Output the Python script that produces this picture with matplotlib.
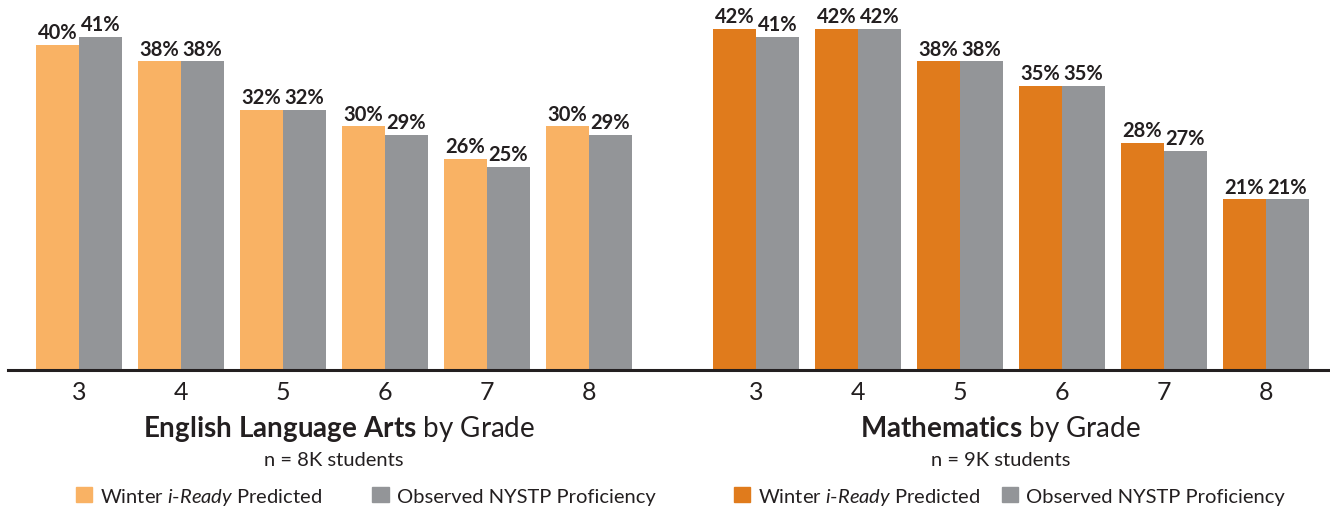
import numpy as np
import matplotlib.pyplot as plt
import matplotlib.transforms as mtransforms
from matplotlib.patches import Patch

# データ
grades = ["3", "4", "5", "6", "7", "8"]
ela_predicted = [40, 38, 32, 30, 26, 30]
ela_observed = [41, 38, 32, 29, 25, 29]
math_predicted = [42, 42, 38, 35, 28, 21]
math_observed = [41, 42, 38, 35, 27, 21]
ela_n = "n = 8K students"
math_n = "n = 9K students"

# 色
ela_orange = "#F9B264"
math_orange = "#E07B1C"
gray = "#939598"
text_color = "#231F20"

plt.rcParams['font.family'] = ['Lato', 'DejaVu Sans']
plt.rcParams['mathtext.fontset'] = 'custom'
plt.rcParams['mathtext.rm'] = 'Lato'
plt.rcParams['mathtext.it'] = 'Lato:italic'
plt.rcParams['mathtext.bf'] = 'Lato:bold'

fig = plt.figure(figsize=(13.3, 5.1), dpi=100)
ax = fig.add_axes([0.006, 0.2725, 0.994, 0.7175])

width = 0.42
gap = 1.637
ela_x = np.arange(len(grades))
math_x = ela_x + len(grades) - 1 + gap

def draw_group(xs, pred, obs, color):
    b1 = ax.bar(xs - width / 2, pred, width, color=color, linewidth=0)
    b2 = ax.bar(xs + width / 2, obs, width, color=gray, linewidth=0)
    for bars, vals in ((b1, pred), (b2, obs)):
        for b, v in zip(bars, vals):
            ax.text(b.get_x() + b.get_width() / 2, v + 0.35, f"{v}%",
                    ha='center', va='bottom', fontsize=14.5, fontweight='bold',
                    color=text_color)
    return b1, b2

ela_bars = draw_group(ela_x, ela_predicted, ela_observed, ela_orange)
math_bars = draw_group(math_x, math_predicted, math_observed, math_orange)

ax.set_xlim(-0.696, 12.265)
ax.set_ylim(0, 365.9 / 8.12)
ax.set_xticks(np.concatenate([ela_x, math_x]))
ax.set_xticklabels(grades + grades, fontsize=18, color=text_color)
ax.tick_params(axis='x', length=0, pad=7)
ax.set_yticks([])
for s in ('top', 'right', 'left'):
    ax.spines[s].set_visible(False)
ax.spines['bottom'].set_linewidth(2.2)
ax.spines['bottom'].set_color(text_color)

# タイトル
trans = mtransforms.blended_transform_factory(ax.transData, fig.transFigure)
ax.text(ela_x.mean() + 0.05, 0.158, r"$\mathbf{English\ Language\ Arts}$ by Grade",
        transform=trans, ha='center', va='center', fontsize=20, color=text_color)
ax.text(math_x.mean() - 0.1, 0.158, r"$\mathbf{Mathematics}$ by Grade",
        transform=trans, ha='center', va='center', fontsize=20, color=text_color)
ax.text(ela_x.mean(), 0.097, ela_n, transform=trans, ha='center', va='center',
        fontsize=14.5, color=text_color)
ax.text(math_x.mean() - 0.1, 0.097, math_n, transform=trans, ha='center', va='center',
        fontsize=14.5, color=text_color)

# 凡例
pred_label = r"Winter $\mathit{i}$-$\mathit{Ready}$ Predicted"
obs_label = "Observed NYSTP Proficiency"
leg_kw = dict(ncol=2, frameon=False, loc='center', fontsize=14.5,
              handlelength=0.8, handleheight=0.8, handletextpad=0.4,
              bbox_transform=fig.transFigure, labelcolor=text_color)
leg1 = ax.legend([Patch(color=ela_orange), Patch(color=gray)],
                 [pred_label, obs_label], bbox_to_anchor=(0.275, 0.025),
                 columnspacing=2.5, **leg_kw)
ax.add_artist(leg1)
ax.legend([Patch(color=math_orange), Patch(color=gray)],
          [pred_label, obs_label], bbox_to_anchor=(0.759, 0.025),
          columnspacing=1.1, **leg_kw)

fig.savefig("out.png", dpi=100)
